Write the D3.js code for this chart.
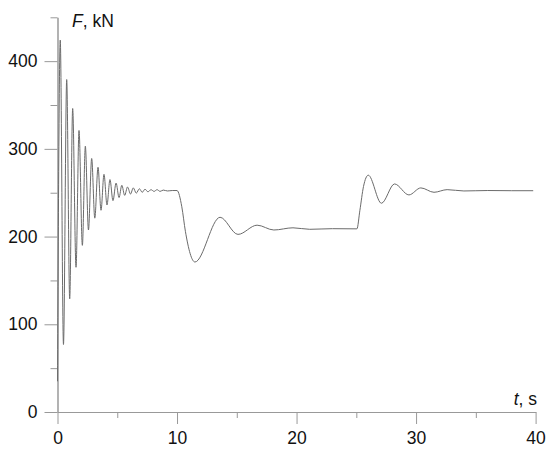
<!DOCTYPE html>
<html>
<head>
<meta charset="utf-8">
<script src="https://cdn.jsdelivr.net/npm/d3@7"></script>
<style>
  html, body { margin: 0; padding: 0; background: #fff; }
  svg { display: block; font-family: "Liberation Sans", Arial, sans-serif; }
</style>
</head>
<body>
<svg width="550" height="452"></svg>
<script>
// time (s) of read-off points: start, peaks/troughs of the ringing, then the two load steps
const timeS = [
  0, 0.23, 0.50, 0.77, 1.02, 1.27, 1.55, 1.80, 2.08, 2.33, 2.59, 2.86, 3.12, 3.39, 3.64, 3.89,
  4.14, 4.39, 4.64, 4.90, 5.15, 5.38, 5.62, 5.86, 6.11, 6.34, 6.59, 6.85, 7.09, 7.32, 7.57,
  7.82, 8.08, 8.33, 8.58, 8.85, 9.2, 9.6, 10.0,
  10.4, 10.7, 11.5, 13.6, 15.1, 16.7, 18.1, 19.7, 21.1, 23.0, 25.05,
  25.3, 25.6, 26.0, 27.1, 28.2, 29.4, 30.4, 31.5, 32.6, 34.0, 36.0, 38.0, 39.8
];
// force (kN) at those times
const forceKN = [
  35, 424, 77, 379, 129, 346, 165, 321, 190, 303, 207.5, 289, 221, 279, 230, 271,
  236, 265, 241, 261, 244.5, 258.5, 247, 256.5, 248.5, 255.5, 249.5, 254.5, 250.5, 254, 251,
  253.5, 251.5, 253.5, 251.5, 253, 252, 252.5, 252.5,
  234, 206, 171, 222, 202.5, 213, 207.5, 210, 208.3, 209, 208.8,
  230, 257, 270, 238, 260, 247.5, 255.5, 250.5, 253.5, 252, 252.5, 252.3, 252.3
];

const xMajor = [0, 10, 20, 30, 40];
const xMinor = [5, 15, 25, 35];
const yMajor = [0, 100, 200, 300, 400];
const yMinor = [50, 150, 250, 350, 450];

const axisColor = '#999';
const lineColor = '#6b6b6b';

const svg = d3.select('svg');

// scales fitted to the plot box of the picture
const x = d3.scaleLinear().domain([0, 40]).range([57.5, 535.6]);
const y = d3.scaleLinear().domain([0, 450]).range([412, 17.3]);

// y axis: major and minor ticks
const yAxisG = svg.append('g').attr('transform', `translate(${x(0)},0)`);
yAxisG.call(d3.axisLeft(y).tickValues(yMajor).tickSize(13).tickSizeOuter(0).tickPadding(7));
yAxisG.append('g').call(d3.axisLeft(y).tickValues(yMinor).tickSize(7).tickSizeOuter(0).tickFormat(''));

// x axis: major and minor ticks
const xAxisG = svg.append('g').attr('transform', `translate(0,${y(0)})`);
xAxisG.call(d3.axisBottom(x).tickValues(xMajor).tickSize(12).tickSizeOuter(0).tickPadding(8));
xAxisG.append('g').call(d3.axisBottom(x).tickValues(xMinor).tickSize(6).tickSizeOuter(0).tickFormat(''));

svg.selectAll('.domain, .tick line')
  .attr('stroke', axisColor)
  .attr('stroke-width', 1);
svg.selectAll('.tick text')
  .attr('fill', '#111')
  .style('font-size', '17.5px')
  .style('font-family', '"Liberation Sans", Arial, sans-serif');

// the force trace
const points = timeS.map((t, i) => [t, forceKN[i]]);
const line = d3.line()
  .x(d => x(d[0]))
  .y(d => y(d[1]))
  .curve(d3.curveMonotoneX);

svg.append('path')
  .datum(points)
  .attr('d', line)
  .attr('fill', 'none')
  .attr('stroke', lineColor)
  .attr('stroke-width', 1);

// axis titles
const yTitle = svg.append('text')
  .attr('x', 72)
  .attr('y', 27)
  .style('font-size', '17.5px')
  .attr('fill', '#111');
yTitle.append('tspan').style('font-style', 'italic').text('F');
yTitle.append('tspan').text(', kN');

const xTitle = svg.append('text')
  .attr('x', 537)
  .attr('y', 405)
  .attr('text-anchor', 'end')
  .style('font-size', '17.5px')
  .attr('fill', '#111');
xTitle.append('tspan').style('font-style', 'italic').text('t');
xTitle.append('tspan').text(', s');
</script>
</body>
</html>
